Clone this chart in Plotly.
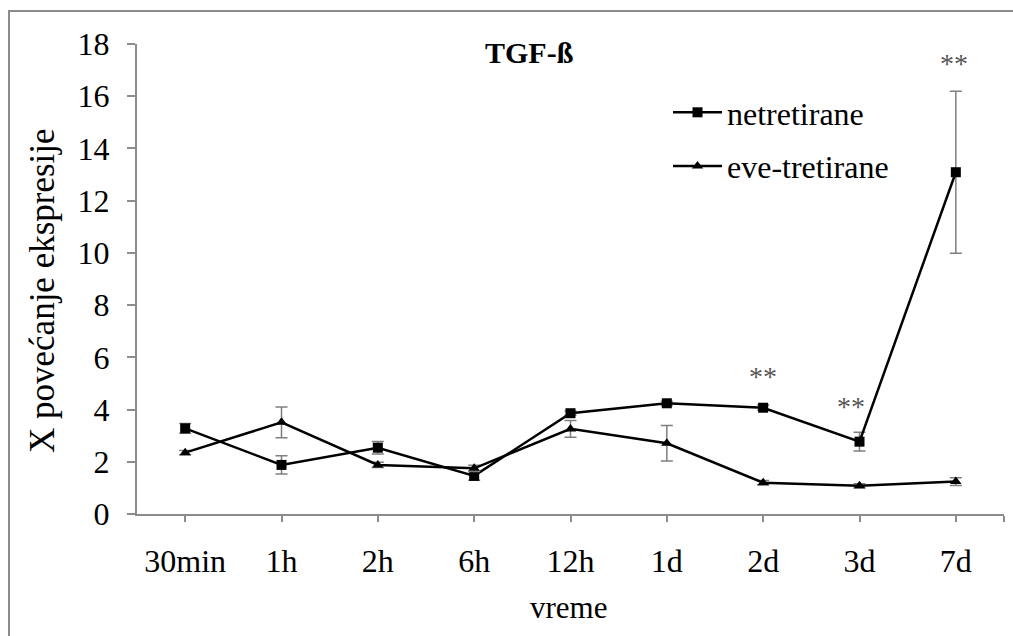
import plotly.graph_objects as go

categories = ["30min", "1h", "2h", "6h", "12h", "1d", "2d", "3d", "7d"]
netretirane = [3.28, 1.88, 2.54, 1.46, 3.86, 4.24, 4.07, 2.77, 13.09]
netretirane_err = [0.19, 0.35, 0.24, 0.17, 0.08, 0.08, 0.10, 0.36, 3.10]
eve_tretirane = [2.35, 3.51, 1.88, 1.75, 3.26, 2.71, 1.20, 1.08, 1.24]
eve_tretirane_err = [0.08, 0.59, 0.10, 0.12, 0.32, 0.68, 0.08, 0.08, 0.15]
y_ticks = [0, 2, 4, 6, 8, 10, 12, 14, 16, 18]
signif_idx = [6, 7, 8]
signif_y = [5.25, 4.10, 17.27]
signif_shift = [0, -9, -2]

FONT = "Times New Roman, Liberation Serif, serif"
W, H = 1013, 636
L, R, T, B = 137, 9, 44, 122
pw, ph = W - L - R, H - T - B

def px(xp):
    return (xp - L) / pw

def py(yp):
    return (H - B - yp) / ph

xi = list(range(len(categories)))

fig = go.Figure()
fig.add_trace(go.Scatter(
    x=xi, y=netretirane, name="netretirane", legendgroup="a",
    mode="lines+markers",
    line=dict(color="black", width=2.5),
    marker=dict(symbol="square", size=10, color="black"),
    error_y=dict(type="data", array=netretirane_err, color="#7f7f7f", thickness=1.5, width=6),
))
fig.add_trace(go.Scatter(
    x=xi, y=eve_tretirane, name="eve-tretirane", legendgroup="b",
    mode="lines+markers",
    line=dict(color="black", width=2.5),
    marker=dict(symbol="triangle-up", size=10, color="black"),
    error_y=dict(type="data", array=eve_tretirane_err, color="#7f7f7f", thickness=1.5, width=6),
))

annotations = []
for i, yv, sh in zip(signif_idx, signif_y, signif_shift):
    annotations.append(dict(x=i, y=yv, xref="x", yref="y", text="**", showarrow=False,
                            xanchor="center", yanchor="middle", xshift=sh,
                            font=dict(family=FONT, size=28, color="#555555")))
annotations.append(dict(x=px(529), y=py(52), xref="paper", yref="paper", text="<b>TGF-ß</b>",
                        xanchor="center", yanchor="middle",
                        showarrow=False, font=dict(family=FONT, size=30, color="black")))
annotations.append(dict(x=px(568), y=py(607), xref="paper", yref="paper", text="vreme",
                        xanchor="center", yanchor="middle",
                        showarrow=False, font=dict(family=FONT, size=31, color="black")))
annotations.append(dict(x=px(42), y=py(291), xref="paper", yref="paper", text="X povećanje ekspresije",
                        xanchor="center", yanchor="middle",
                        textangle=-90, showarrow=False, font=dict(family=FONT, size=35, color="black")))

fig.update_layout(
    width=W, height=H,
    margin=dict(l=L, r=R, t=T, b=B),
    paper_bgcolor="white", plot_bgcolor="white",
    font=dict(family=FONT, size=32, color="black"),
    showlegend=True,
    legend=dict(x=px(668), y=py(85), xanchor="left", yanchor="top",
                font=dict(family=FONT, size=32), tracegroupgap=9,
                bgcolor="rgba(0,0,0,0)", itemwidth=49),
    annotations=annotations,
    shapes=[dict(type="rect", xref="paper", yref="paper",
                 x0=px(9), y0=py(11), x1=px(1030), y1=py(660),
                 line=dict(color="#8c8c8c", width=2), fillcolor="rgba(0,0,0,0)", layer="below")],
)
fig.update_xaxes(
    range=[-0.5, 8.5],
    tickvals=xi + [8.5], ticktext=categories + [""],
    ticks="outside", ticklen=6, tickcolor="#8c8c8c", tickwidth=1.5,
    showline=True, linecolor="#8c8c8c", linewidth=2,
    showgrid=False, zeroline=False,
    tickfont=dict(family=FONT, size=32), ticklabelstandoff=12,
)
fig.update_yaxes(
    range=[0, 18], tickvals=y_ticks,
    ticks="outside", ticklen=8, tickcolor="#8c8c8c", tickwidth=1.5,
    showline=True, linecolor="#8c8c8c", linewidth=2,
    showgrid=False, zeroline=False,
    tickfont=dict(family=FONT, size=32), ticklabelstandoff=11,
)

fig.write_html("out.html")
